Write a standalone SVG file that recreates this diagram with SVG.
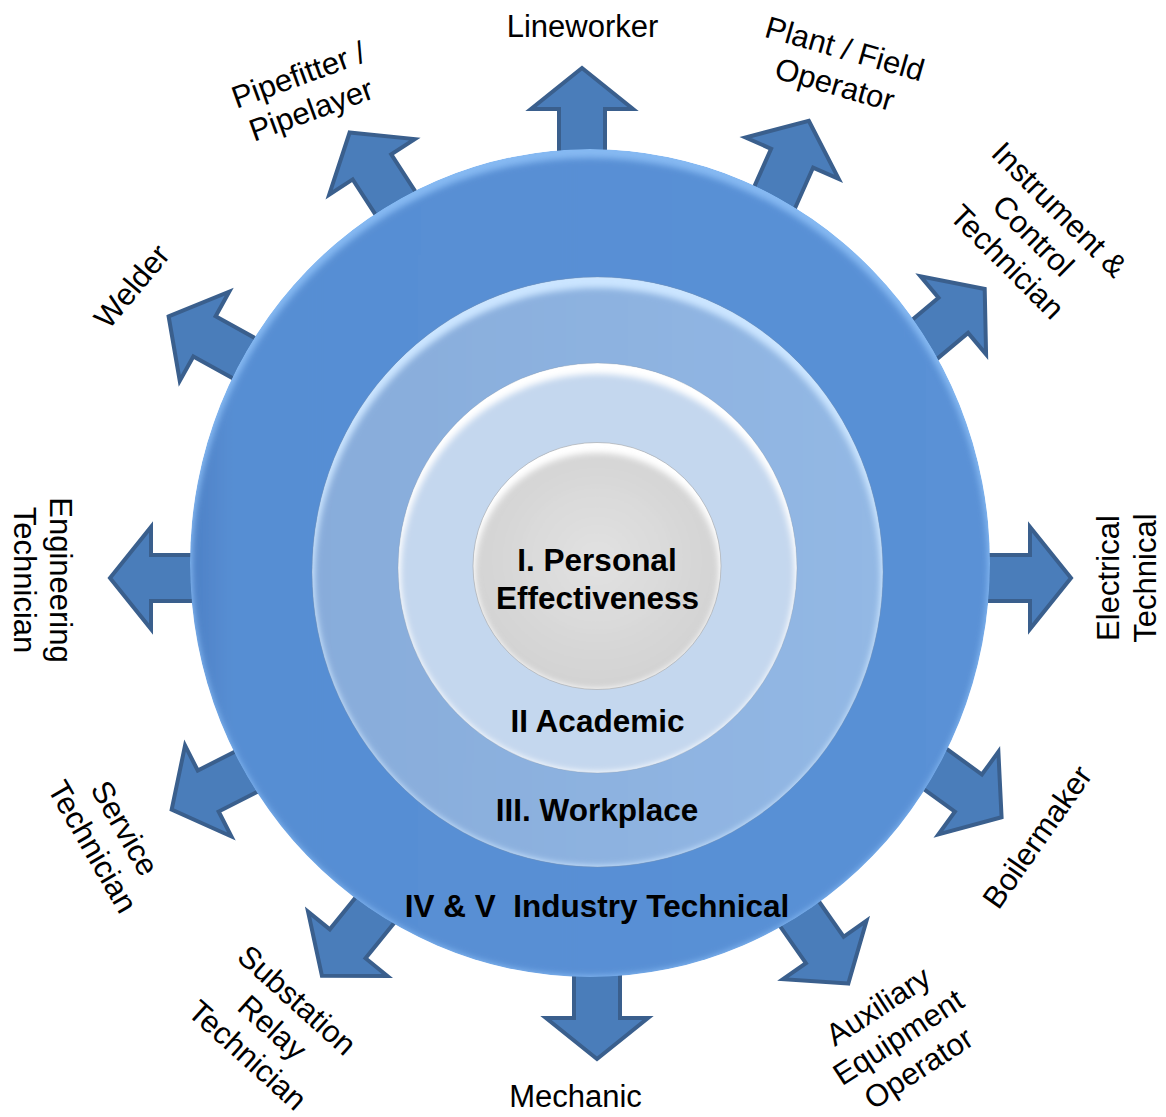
<svg xmlns="http://www.w3.org/2000/svg" width="1166" height="1117" viewBox="0 0 1166 1117">
<style>
.lbl{font-family:"Liberation Sans",Arial,sans-serif;font-size:31px;fill:#000;text-anchor:middle}
.ring{font-family:"Liberation Sans",Arial,sans-serif;font-size:31.5px;font-weight:bold;fill:#000;text-anchor:middle}
.arr{fill:#4A7DBA;stroke:#3A5F8D;stroke-width:4;stroke-linejoin:miter}
</style>
<defs>
<polygon id="arrow" points="0,3 51,44 23,44 23,100 -23,100 -23,44 -51,44"/>
<filter id="bl" x="-10%" y="-10%" width="120%" height="120%"><feGaussianBlur stdDeviation="3"/></filter>
<clipPath id="c1"><ellipse cx="590" cy="563" rx="400" ry="414"/></clipPath>
<clipPath id="c2"><ellipse cx="597.5" cy="572" rx="285.5" ry="295"/></clipPath>
<clipPath id="c3"><ellipse cx="597.5" cy="568" rx="199.5" ry="205"/></clipPath>
<clipPath id="c4"><ellipse cx="597" cy="566" rx="124" ry="123.5"/></clipPath>
<radialGradient id="sph" cx="50%" cy="45%" r="55%">
<stop offset="0" stop-color="#E2E2E2"/><stop offset="1" stop-color="#D2D2D2"/>
</radialGradient>
<linearGradient id="lr1" x1="0" y1="0" x2="1" y2="0">
<stop offset="0" stop-color="#4E81C6"/><stop offset="0.05" stop-color="#578ED3"/><stop offset="1" stop-color="#5A91D6"/>
</linearGradient>
<linearGradient id="lr2" x1="0" y1="0" x2="1" y2="0">
<stop offset="0" stop-color="#88ACDA"/><stop offset="0.5" stop-color="#8DB2E0"/><stop offset="1" stop-color="#93B8E4"/>
</linearGradient>
</defs>

<g id="connectors">
<use href="#arrow" class="arr" transform="translate(582,65) rotate(0)"/>
<use href="#arrow" class="arr" transform="translate(810,118) rotate(24)"/>
<use href="#arrow" class="arr" transform="translate(987,287) rotate(50)"/>
<use href="#arrow" class="arr" transform="translate(1074,578) rotate(90)"/>
<use href="#arrow" class="arr" transform="translate(1004,819) rotate(126)"/>
<use href="#arrow" class="arr" transform="translate(850,986) rotate(145)"/>
<use href="#arrow" class="arr" transform="translate(597,1062) rotate(180)"/>
<use href="#arrow" class="arr" transform="translate(320,978) rotate(219)"/>
<use href="#arrow" class="arr" transform="translate(169,811) rotate(243)"/>
<use href="#arrow" class="arr" transform="translate(107,578) rotate(270)"/>
<use href="#arrow" class="arr" transform="translate(166,315) rotate(299)"/>
<use href="#arrow" class="arr" transform="translate(348,130) rotate(327)"/>
</g>

<g id="ring-industry">
<g clip-path="url(#c1)">
<ellipse cx="590" cy="563" rx="400" ry="414" fill="#86B9F2"/>
<ellipse cx="590" cy="567" rx="398" ry="409" fill="url(#lr1)" filter="url(#bl)"/>
</g>
<text class="ring" x="597" y="917">IV &amp; V&#160; Industry Technical</text>
</g>

<g id="ring-workplace">
<g clip-path="url(#c2)">
<ellipse cx="597.5" cy="572" rx="285.5" ry="295" fill="#CBE5FF"/>
<ellipse cx="597.5" cy="577" rx="283" ry="289" fill="url(#lr2)" filter="url(#bl)"/>
</g>
<ellipse cx="597.5" cy="572" rx="285.5" ry="295" fill="none" stroke="#7C8FA8" stroke-opacity="0.35" stroke-width="1"/>
<text class="ring" x="597" y="821">III. Workplace</text>
</g>

<g id="ring-academic">
<g clip-path="url(#c3)">
<ellipse cx="597.5" cy="568" rx="199.5" ry="205" fill="#FFFFFF"/>
<ellipse cx="597.5" cy="573" rx="197" ry="199" fill="#C4D7EE" filter="url(#bl)"/>
</g>
<ellipse cx="597.5" cy="568" rx="199.5" ry="205" fill="none" stroke="#8A9AB0" stroke-opacity="0.35" stroke-width="1"/>
<text class="ring" x="597.5" y="732">II Academic</text>
</g>

<g id="core-personal">
<g clip-path="url(#c4)">
<ellipse cx="597" cy="566" rx="124" ry="123.5" fill="#FFFFFF"/>
<ellipse cx="597" cy="571" rx="122" ry="118" fill="url(#sph)" filter="url(#bl)"/>
</g>
<ellipse cx="597" cy="566" rx="124" ry="123.5" fill="none" stroke="#A8A8A8" stroke-opacity="0.6" stroke-width="1"/>
<text class="ring" x="597" y="571">I. Personal</text>
<text class="ring" x="597.5" y="609">Effectiveness</text>
</g>

<g id="lbl-lineworker"><text class="lbl" x="582.5" y="37">Lineworker</text></g>
<g id="lbl-plant"><text class="lbl" transform="translate(842,59) rotate(16)"><tspan x="0" y="0">Plant / Field</tspan><tspan x="0" y="37">Operator</tspan></text></g>
<g id="lbl-instrument"><text class="lbl" transform="translate(1052,217) rotate(45)"><tspan x="0" y="0">Instrument &amp;</tspan><tspan x="0" y="37">Control</tspan><tspan x="0" y="74">Technician</tspan></text></g>
<g id="lbl-electrical"><text class="lbl" transform="translate(1119,578) rotate(-90)"><tspan x="0" y="0">Electrical</tspan><tspan x="0" y="37">Technical</tspan></text></g>
<g id="lbl-boilermaker"><text class="lbl" transform="translate(1046,843) rotate(-55)">Boilermaker</text></g>
<g id="lbl-auxiliary"><text class="lbl" transform="translate(884,1015) rotate(-33)"><tspan x="0" y="0">Auxiliary</tspan><tspan x="0" y="37">Equipment</tspan><tspan x="0" y="74">Operator</tspan></text></g>
<g id="lbl-mechanic"><text class="lbl" x="575.5" y="1107">Mechanic</text></g>
<g id="lbl-substation"><text class="lbl" transform="translate(290,1008) rotate(42)"><tspan x="0" y="0">Substation</tspan><tspan x="0" y="37">Relay</tspan><tspan x="0" y="74">Technician</tspan></text></g>
<g id="lbl-service"><text class="lbl" transform="translate(115.5,833.5) rotate(60)"><tspan x="0" y="0">Service</tspan><tspan x="0" y="37">Technician</tspan></text></g>
<g id="lbl-engineering"><text class="lbl" transform="translate(50,580) rotate(90)"><tspan x="0" y="0">Engineering</tspan><tspan x="0" y="36">Technician</tspan></text></g>
<g id="lbl-welder"><text class="lbl" transform="translate(140,293) rotate(-50)">Welder</text></g>
<g id="lbl-pipefitter"><text class="lbl" transform="translate(302,85) rotate(-20)"><tspan x="0" y="0">Pipefitter /</tspan><tspan x="0" y="37">Pipelayer</tspan></text></g>
</svg>
